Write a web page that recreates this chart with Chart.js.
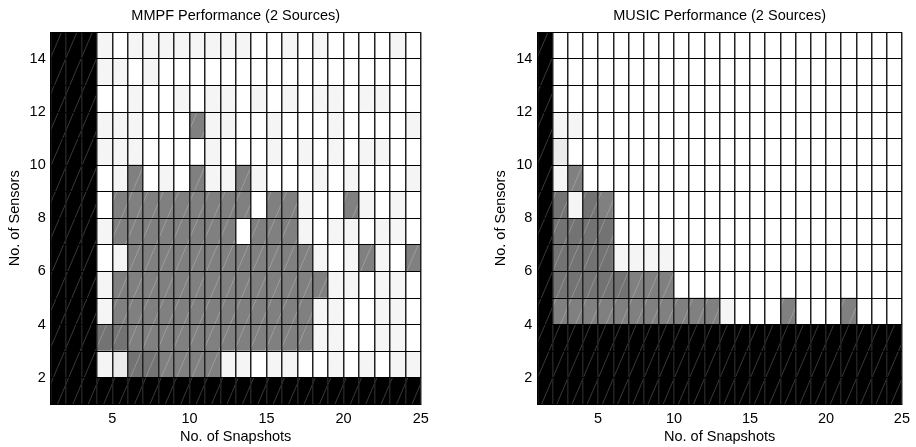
<!DOCTYPE html>
<html lang="en">
<head>
  <meta charset="UTF-8" />
  <title>MMPF / MUSIC Performance (2 Sources)</title>
  <script src="https://cdn.jsdelivr.net/npm/chart.js"></script>
  <style>
    html, body { margin: 0; padding: 0; background: #fff; }
    #wrap { position: relative; width: 916px; height: 447px; }
    .box { position: absolute; top: 0; width: 458px; height: 447px; }
    #leftBox { left: 0; }
    #rightBox { left: 458px; }
  </style>
</head>
<body>
  <div id="wrap">
    <div class="box" id="leftBox"><canvas id="mmpfChart"></canvas></div>
    <div class="box" id="rightBox"><canvas id="musicChart"></canvas></div>
  </div>

  <script>
    // cell left edges (each cell spans [v, v+1])
    const snapshots = [1,2,3,4,5,6,7,8,9,10,11,12,13,14,15,16,17,18,19,20,21,22,23,24];
    const sensors = [14,13,12,11,10,9,8,7,6,5,4,3,2,1];   // rows, top to bottom
    const xTicks = [5,10,15,20,25];
    const yTicks = [2,4,6,8,10,12,14];

    // grey levels (0 = black / not evaluated, 1 = white)
    const K = 0, D = 0.45, G = 0.5, E = 0.92, L = 0.96, W = 1;

    const mmpfRows = [
      [K,K,K,L,W,L,L,L,L,L,L,L,L,W,W,L,W,L,W,W,W,W,L,W],
      [K,K,K,L,L,W,L,W,W,W,W,W,W,W,W,W,W,W,W,W,W,W,W,W],
      [K,K,K,W,W,L,W,W,L,W,L,L,W,L,W,L,W,L,L,W,L,L,W,W],
      [K,K,K,L,L,L,W,W,W,G,L,L,W,W,L,W,W,W,L,W,W,W,W,L],
      [K,K,K,L,L,L,W,W,W,W,L,W,W,W,L,W,L,W,L,W,L,L,W,W],
      [K,K,K,W,L,G,W,L,W,G,L,L,G,L,W,W,W,L,W,L,W,W,W,L],
      [K,K,K,W,G,G,G,G,G,G,G,G,G,W,G,G,L,W,W,G,L,W,L,W],
      [K,K,K,L,G,G,G,G,G,G,G,G,W,G,G,G,L,W,L,L,W,L,L,W],
      [K,K,K,W,L,G,G,G,G,G,G,G,G,G,G,G,G,L,W,L,G,L,W,G],
      [K,K,K,L,G,G,G,G,G,G,G,G,G,G,G,G,G,G,L,L,W,L,L,W],
      [K,K,K,L,G,G,G,G,G,G,G,G,G,G,G,G,G,L,L,W,W,L,L,W],
      [K,K,K,D,D,G,G,G,G,G,G,G,G,G,G,G,G,L,L,W,W,L,L,W],
      [K,K,K,L,E,D,D,G,G,G,G,L,L,W,L,L,W,W,L,W,L,W,L,L],
      [K,K,K,K,K,K,K,K,K,K,K,K,K,K,K,K,K,K,K,K,K,K,K,K]
    ];

    const musicRows = [
      [K,W,W,W,W,W,W,W,W,W,W,W,W,W,W,W,W,W,W,W,W,W,W,W],
      [K,W,W,W,W,W,W,W,W,W,W,W,W,W,W,W,W,W,W,W,W,W,W,W],
      [K,W,W,W,W,W,W,W,W,W,W,W,W,W,W,W,W,W,W,W,W,W,W,W],
      [K,L,L,W,W,W,W,W,W,W,W,W,W,W,W,W,W,W,W,W,W,W,W,W],
      [K,E,W,W,W,W,W,W,W,W,W,W,W,W,W,W,W,W,W,W,W,W,W,W],
      [K,L,G,W,W,W,W,W,W,W,W,W,W,W,W,W,W,W,W,W,W,W,W,W],
      [K,D,L,D,G,W,W,W,W,W,W,W,W,W,W,W,W,W,W,W,W,W,W,W],
      [K,D,D,D,D,W,W,W,W,W,W,W,W,W,W,W,W,W,W,W,W,W,W,W],
      [K,D,D,D,D,L,L,L,L,W,W,W,W,W,W,W,W,W,W,W,W,W,W,W],
      [K,D,D,D,D,D,G,G,G,W,W,W,W,W,W,W,W,W,W,W,W,W,W,W],
      [K,G,G,G,G,G,G,G,G,G,G,G,L,W,W,W,G,W,W,W,G,W,W,W],
      [K,K,K,K,K,K,K,K,K,K,K,K,K,K,K,K,K,K,K,K,K,K,K,K],
      [K,K,K,K,K,K,K,K,K,K,K,K,K,K,K,K,K,K,K,K,K,K,K,K],
      [K,K,K,K,K,K,K,K,K,K,K,K,K,K,K,K,K,K,K,K,K,K,K,K]
    ];

    const FONT = "'Liberation Sans', Arial, sans-serif";

    function grey(v) {
      const c = Math.round(v * 255);
      return `rgb(${c},${c},${c})`;
    }

    // thin diagonal hatch laid over the image, like the original figure
    const hatch = {
      id: 'hatch',
      afterDatasetsDraw(chart) {
        const { ctx, chartArea: a, scales: { x } } = chart;
        const step = x.getPixelForValue(2) - x.getPixelForValue(1);
        const run = a.height / 2.35;
        ctx.save();
        ctx.beginPath();
        ctx.rect(a.left, a.top, a.right - a.left, a.bottom - a.top);
        ctx.clip();
        ctx.strokeStyle = 'rgba(255,255,255,0.25)';
        ctx.lineWidth = 0.9;
        ctx.beginPath();
        for (let x0 = a.left - run - step * 0.3; x0 < a.right; x0 += step) {
          ctx.moveTo(x0, a.bottom);
          ctx.lineTo(x0 + run, a.top);
        }
        ctx.stroke();
        ctx.restore();
      }
    };

    function makeChart(id, rows, title, yWidth, rightPad, yTitlePad) {
      const cells = [], colors = [];
      rows.forEach((row, r) => {
        row.forEach((v, c) => {
          cells.push({ x: snapshots[c] + 0.5, y: [sensors[r], sensors[r] + 1] });
          colors.push(grey(v));
        });
      });

      return new Chart(document.getElementById(id), {
        type: 'bar',
        data: {
          datasets: [{
            data: cells,
            backgroundColor: colors,
            borderWidth: 0,
            barPercentage: 1,
            categoryPercentage: 1,
            grouped: false
          }]
        },
        options: {
          responsive: true,
          maintainAspectRatio: false,
          animation: false,
          devicePixelRatio: 1,
          layout: { padding: { left: 0, right: rightPad, top: 0, bottom: 0 } },
          plugins: {
            legend: { display: false },
            tooltip: { enabled: false },
            title: {
              display: true,
              text: title,
              color: '#000',
              fullSize: false,
              font: { family: FONT, size: 14.5, weight: 'normal' },
              padding: { top: 7.3, bottom: 7.6 }
            }
          },
          scales: {
            x: {
              type: 'linear',
              min: 1, max: 25,
              offset: false,
              grid: { offset: false, color: '#222', lineWidth: 1.5, z: 1, drawTicks: false },
              border: { color: '#000', z: 2 },
              ticks: {
                stepSize: 1, autoSkip: false, maxRotation: 0, padding: 6,
                color: '#000', font: { family: FONT, size: 14.5 },
                callback: v => xTicks.includes(v) ? String(v) : ''
              },
              title: {
                display: true, text: 'No. of Snapshots', color: '#000',
                font: { family: FONT, size: 14.5 }, padding: { top: 0, bottom: 1 }
              },
              afterFit: s => { s.height = 42.7; }
            },
            y: {
              type: 'linear',
              min: 1, max: 15,
              grid: { color: '#000', lineWidth: 1, z: 1, drawTicks: false },
              border: { color: '#000', z: 2 },
              ticks: {
                stepSize: 1, autoSkip: false, padding: 5,
                color: '#000', font: { family: FONT, size: 14.5 },
                callback: v => yTicks.includes(v) ? String(v) : ''
              },
              title: {
                display: true, text: 'No. of Sensors', color: '#000',
                font: { family: FONT, size: 14.5 }, padding: { top: yTitlePad, bottom: 0 }
              },
              afterFit: s => { s.width = yWidth; }
            }
          }
        },
        plugins: [hatch]
      });
    }

    makeChart('mmpfChart', mmpfRows, 'MMPF Performance (2 Sources)', 50.7, 37.3, 6);
    makeChart('musicChart', musicRows, 'MUSIC Performance (2 Sources)', 79.3, 7.7, 34.6);
  </script>
</body>
</html>
